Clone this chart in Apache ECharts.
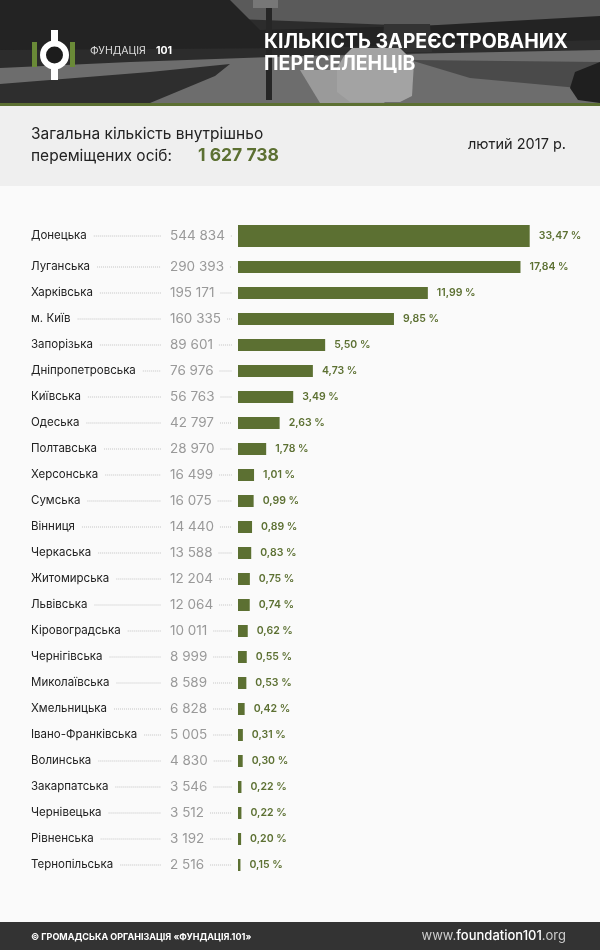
<!DOCTYPE html>
<html>
<head>
<meta charset="utf-8">
<style>
    html, body { margin: 0; padding: 0; background: #fafafa; }
    #chart { width: 600px; height: 950px; }
</style>
<script src="https://cdn.jsdelivr.net/npm/echarts@6/dist/echarts.min.js"></script>
</head>
<body>
<div id="chart"></div>
<script>
var regions = ['Донецька', 'Луганська', 'Харківська', 'м. Київ', 'Запорізька', 'Дніпропетровська', 'Київська', 'Одеська', 'Полтавська', 'Херсонська', 'Сумська', 'Вінниця', 'Черкаська', 'Житомирська', 'Львівська', 'Кіровоградська', 'Чернігівська', 'Миколаївська', 'Хмельницька', 'Івано-Франківська', 'Волинська', 'Закарпатська', 'Чернівецька', 'Рівненська', 'Тернопільська'];
var counts = [544834, 290393, 195171, 160335, 89601, 76976, 56763, 42797, 28970, 16499, 16075, 14440, 13588, 12204, 12064, 10011, 8999, 8589, 6828, 5005, 4830, 3546, 3512, 3192, 2516];
var shares = ['33,47', '17,84', '11,99', '9,85', '5,50', '4,73', '3,49', '2,63', '1,78', '1,01', '0,99', '0,89', '0,83', '0,75', '0,74', '0,62', '0,55', '0,53', '0,42', '0,31', '0,30', '0,22', '0,22', '0,20', '0,15'];

var FONT = 'Inter, "Noto Sans", sans-serif';
var GREEN = '#5c7032';

var measure = document.createElement('canvas').getContext('2d');
function textWidth(str, size) {
    measure.font = size + 'px ' + FONT;
    return measure.measureText(str).width;
}
function spaced(n) {
    return String(n).replace(/\B(?=(\d{3})+$)/g, ' ');
}

// counts and dotted leaders sit between the name and the bar
function renderRow(params, api) {
    var name = api.value(2);
    var count = spaced(api.value(0));
    var p = api.coord([0, api.value(1)]);
    var x0 = 31 + textWidth(name, 11.5) + 7;
    var x1 = 170 + textWidth(count, 13.5) + 6;
    var dots = {stroke: '#c4c4c4', lineWidth: 1, lineDash: [1, 1]};
    return {
        type: 'group',
        children: [
            {type: 'line', shape: {x1: x0, y1: p[1], x2: 161, y2: p[1]}, style: dots},
            {type: 'line', shape: {x1: x1, y1: p[1], x2: 232, y2: p[1]}, style: dots},
            {type: 'text', x: 170, y: p[1], style: {
                text: count, fill: '#999999', font: '13.5px ' + FONT, textAlign: 'left', textVerticalAlign: 'middle'
            }}
        ]
    };
}

function barSeries(idx, from, to, barWidth) {
    return {
        type: 'bar',
        xAxisIndex: idx,
        yAxisIndex: idx,
        barWidth: barWidth,
        silent: true,
        itemStyle: {color: GREEN},
        label: {
            show: true,
            position: 'right',
            distance: 9,
            color: GREEN,
            fontFamily: FONT,
            fontSize: 10.5,
            fontWeight: 600,
            formatter: function (p) { return shares[from + p.dataIndex] + ' %'; }
        },
        data: counts.slice(from, to)
    };
}

function rowSeries(idx, from, to) {
    return {
        type: 'custom',
        xAxisIndex: idx,
        yAxisIndex: idx,
        silent: true,
        renderItem: renderRow,
        encode: {x: 0, y: 1},
        data: counts.slice(from, to).map(function (c, i) {
            return [c, i, regions[from + i]];
        })
    };
}

function yAxisFor(idx, from, to) {
    return {
        type: 'category',
        gridIndex: idx,
        inverse: true,
        data: regions.slice(from, to),
        axisLine: {show: false},
        axisTick: {show: false},
        axisLabel: {
            align: 'left',
            margin: 207,
            color: '#222222',
            fontFamily: FONT,
            fontSize: 11.5,
            interval: 0
        }
    };
}

function xAxisFor(idx) {
    // the top bar runs past the axis max and gets cut, like the original
    return {type: 'value', gridIndex: idx, min: 0, max: 299870, show: false};
}

function title(text, x, y, size, weight, fill, align) {
    return {
        type: 'text', x: x, y: y, z: 10,
        style: {
            text: text, fill: fill, textAlign: align || 'left', textVerticalAlign: 'middle',
            font: (weight || 400) + ' ' + size + 'px ' + FONT
        }
    };
}

function poly(points, fill) {
    return {type: 'polygon', shape: {points: points}, style: {fill: fill}, z: 2};
}

function box(x, y, w, h, fill, z) {
    return {type: 'rect', shape: {x: x, y: y, width: w, height: h}, style: {fill: fill}, z: z || 1};
}

var graphics = [
    // header photo, roughly
    box(0, 0, 600, 103, '#2c2c2c'),
    poly([[210, 0], [600, 0], [600, 22], [420, 26], [210, 18]], '#5a5a5a'),
    poly([[0, 0], [230, 0], [260, 30], [420, 26], [600, 16], [600, 40], [300, 48], [0, 50]], '#232323'),
    poly([[0, 68], [130, 62], [300, 56], [600, 50], [600, 103], [0, 103]], '#6d6d6d'),
    poly([[0, 84], [150, 72], [230, 64], [215, 76], [150, 103], [0, 103]], '#2e2e2e'),
    poly([[300, 70], [345, 70], [385, 103], [320, 103]], '#9a9a9a'),
    poly([[410, 60], [600, 62], [600, 90], [470, 78]], '#4a4a4a'),
    poly([[384, 24], [430, 24], [432, 52], [382, 52]], '#333333'),
    poly([[344, 56], [352, 48], [400, 48], [414, 62], [412, 96], [400, 102], [350, 102], [337, 92], [337, 68]], '#a3a3a3'),
    poly([[575, 72], [600, 62], [600, 103], [578, 100], [570, 88]], '#1f1f1f'),
    box(266, 8, 6, 92, '#262626', 3),
    box(253, 0, 25, 8, '#777777', 3),
    box(0, 103, 600, 3, GREEN),
    box(0, 106, 600, 80, '#efefef'),
    box(0, 922, 600, 28, '#333333'),
    // logo
    box(32, 42, 5, 25, '#6a8a37', 5),
    box(70, 42, 5, 25, '#6a8a37', 5),
    box(51, 30, 7, 50, '#ffffff', 5),
    {type: 'circle', shape: {cx: 54.5, cy: 55, r: 11.5}, style: {fill: '#1c1c1c', stroke: '#ffffff', lineWidth: 6}, z: 6},
    title('ФУНДАЦІЯ', 90, 51, 10.5, 400, '#dddddd'),
    title('101', 156, 51, 10.5, 700, '#ffffff'),
    title('КІЛЬКІСТЬ ЗАРЕЄСТРОВАНИХ', 264, 42, 19.5, 700, '#ffffff'),
    title('ПЕРЕСЕЛЕНЦІВ', 264, 64, 19.5, 700, '#ffffff'),
    // summary panel
    title('Загальна кількість внутрішньо', 31, 134, 15.5, 400, '#222222'),
    title('переміщених осіб:', 31, 156, 15.5, 400, '#222222'),
    title('1 627 738', 198, 156, 17.5, 700, GREEN),
    title('лютий 2017 р.', 566, 145, 14.5, 400, '#222222', 'right'),
    // footer
    title('© ГРОМАДСЬКА ОРГАНІЗАЦІЯ «ФУНДАЦІЯ.101»', 31, 937, 9, 700, '#ffffff'),
    {
        type: 'text', x: 566, y: 936, z: 10,
        style: {
            text: '{a|www.}{b|foundation101}{a|.org}',
            textAlign: 'right',
            textVerticalAlign: 'middle',
            rich: {
                a: {fill: '#cccccc', font: '400 13px ' + FONT},
                b: {fill: '#ffffff', font: '500 13px ' + FONT}
            }
        }
    }
];

var chart = echarts.init(document.getElementById('chart'));
chart.setOption({
    animation: false,
    backgroundColor: '#fafafa',
    graphic: graphics,
    grid: [
        {left: 238, width: 291.7, top: 225, height: 22},
        {left: 238, width: 291.7, top: 254, height: 624}
    ],
    xAxis: [xAxisFor(0), xAxisFor(1)],
    yAxis: [yAxisFor(0, 0, 1), yAxisFor(1, 1, 25)],
    series: [
        barSeries(0, 0, 1, 22),
        barSeries(1, 1, 25, 12),
        rowSeries(0, 0, 1),
        rowSeries(1, 1, 25)
    ]
});
</script>
</body>
</html>
